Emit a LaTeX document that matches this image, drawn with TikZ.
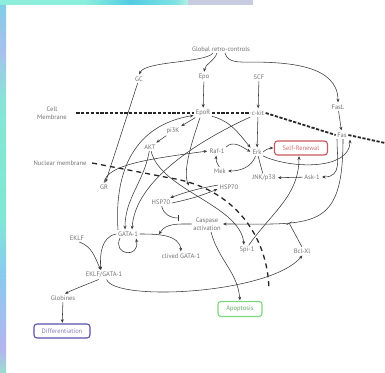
\documentclass[tikz,border=0pt]{standalone}
\usepackage{fontspec}
\setsansfont{PT Sans}
\usetikzlibrary{arrows.meta}
\definecolor{labelgray}{HTML}{727272}
\definecolor{linegray}{HTML}{383838}
\definecolor{renewred}{HTML}{C8585C}
\definecolor{apoptgreen}{HTML}{7CD87C}
\definecolor{diffblue}{HTML}{5A50A8}

\begin{document}
\begin{tikzpicture}
[x=1pt, y=1pt, >={Stealth[length=3.6pt,width=3pt]}, link line/.style={->, draw=linegray, line width=0.55pt, shorten >=0.6pt}, plain line/.style={draw=linegray, line width=0.55pt}, inhibit line/.style={-{Bar[width=6pt]}, draw=linegray, line width=0.55pt}, membrane line/.style={line width=1.8pt, dash pattern=on 3.2pt off 1.6pt, black!85}, nuclear line/.style={line width=1.3pt, dash pattern=on 5pt off 4pt, black!85}, outcome box/.style={draw, rounded corners=3pt, line width=1.1pt, minimum height=14pt, inner sep=2pt}, every node/.style={font=\sffamily\fontsize{6.5}{8}\selectfont, text=labelgray, inner sep=1.5pt}]
    \useasboundingbox (0,0) rectangle (385,372);
    \fill[white] (0,0) rectangle (385,372);
    \shade[top color={rgb,255:red,124;green,207;blue,230}, bottom color={rgb,255:red,168;green,192;blue,238}] (0,322) rectangle (6,372);
    \shade[top color={rgb,255:red,168;green,192;blue,238}, bottom color={rgb,255:red,134;green,228;blue,214}] (0,272) rectangle (6,322);
    \shade[top color={rgb,255:red,134;green,228;blue,214}, bottom color={rgb,255:red,128;green,232;blue,212}] (0,157) rectangle (6,272);
    \shade[top color={rgb,255:red,128;green,232;blue,212}, bottom color={rgb,255:red,136;green,204;blue,238}] (0,102) rectangle (6,157);
    \shade[top color={rgb,255:red,136;green,204;blue,238}, bottom color={rgb,255:red,180;green,180;blue,238}] (0,22) rectangle (6,102);
    \shade[top color={rgb,255:red,180;green,180;blue,238}, bottom color={rgb,255:red,154;green,220;blue,208}] (0,0) rectangle (6,22);
    \shade[left color={rgb,255:red,142;green,238;blue,220}, right color={rgb,255:red,138;green,238;blue,220}] (0,367) rectangle (85,372);
    \shade[left color={rgb,255:red,138;green,238;blue,220}, right color={rgb,255:red,84;green,204;blue,226}] (85,367) rectangle (130,372);
    \shade[left color={rgb,255:red,84;green,204;blue,226}, right color={rgb,255:red,124;green,226;blue,226}] (130,367) rectangle (175,372);
    \shade[left color={rgb,255:red,124;green,226;blue,226}, right color={rgb,255:red,180;green,240;blue,228}] (175,367) rectangle (188,372);
    \fill[fill={rgb,255:red,200;green,204;blue,224}] (188,367) rectangle (253,372);

    \node (glob) at (221,323) {Global retro-controls};
    \node (gc) at (139,293) {GC};
    \node (epo) at (204,295) {Epo};
    \node (scf) at (259,295) {SCF};
    \node (fasl) at (338,265) {FasL};
    \node[align=center] (cellm) at (52,259) {Cell\\Membrane};
    \node (epor) at (203,259) {EpoR};
    \node (ckit) at (258,259) {c-kit};
    \node (fas) at (342,237) {Fas};
    \node (pik) at (173,241) {pi3K};
    \node (akt) at (150,225) {AKT};
    \node (raf) at (217,221) {Raf-1};
    \node (erk) at (257,220) {Erk};
    \node[outcome box, draw=renewred, text=renewred!85!white, minimum width=53pt] (selfr) at (301,224) {Self-Renewal};
    \node (nucm) at (60,209) {Nuclear membrane};
    \node (mek) at (220,201) {Mek};
    \node (jnk) at (264,194) {JNK/p38};
    \node (ask) at (312,195) {Ask-1};
    \node (gr) at (104,185) {GR};
    \node (hspr) at (229,185) {HSP70};
    \node (hspl) at (161,170) {HSP70};
    \node[align=center] (casp) at (207,148) {Caspase\\activation};
    \node (gata) at (128,138) {GATA-1};
    \node (eklf) at (77,134) {EKLF};
    \node (spi) at (247,122) {Spi-1};
    \node (bcl) at (302,121) {Bcl-Xl};
    \node (cgata) at (181,116) {clived GATA-1};
    \node (eg) at (104,97) {EKLF/GATA-1};
    \node (glo) at (63,74) {Globines};
    \node[outcome box, draw=diffblue, text=diffblue!75!white, minimum width=56pt] (diff) at (62,41) {Differentiation};
    \node[outcome box, draw=apoptgreen, text=apoptgreen!80!black, minimum width=44pt, minimum height=15pt] (apop) at (240,63) {Apoptosis};
    \coordinate (hsptip) at (189,186);

    \draw[membrane line] ([xshift=8pt]cellm.east) -- (epor.west);
    \draw[membrane line] (epor.east) -- (ckit.west);
    \draw[membrane line] (ckit.east) -- (fas.west);
    \draw[membrane line] (fas.east) -- (385,229);
    \draw[nuclear line] ([xshift=4pt]nucm.east) -- (170,194) .. controls (235,184) and (268,135) .. (269,82);

    \draw[link line] ([xshift=-8pt]glob.south) .. controls +(-8,-10) and +(6,14) .. (gc.north);
    \draw[link line] ([xshift=-4pt]glob.south) to[out=-110,in=80] (epo.north);
    \draw[link line] ([xshift=4pt]glob.south) to[out=-75,in=180] ++(25,-9) to[out=0,in=90] (fasl.north);
    \draw[link line] (epo) -- (epor);
    \draw[link line] (scf) -- (ckit);
    \draw[link line] (fasl) -- (fas);
    \draw[link line] (gc) -- (gr);
    \draw[link line] (epor) -- (pik);
    \draw[link line] (pik) -- (akt);
    \draw[link line] (epor.-20) to[out=-15,in=130] (erk.north west);
    \draw[link line] (ckit) -- (erk);
    \draw[link line] (ckit.south west) .. controls (200,232) and (135,192) .. ([xshift=4pt]gata.north);
    \draw[link line] (akt.-100) to[out=-100,in=90] ([xshift=-3pt]gata.north);
    \draw[link line] ([xshift=-10pt]gata.north) .. controls (114,202) and (135,247) .. (epor.195);
    \draw[link line] (gr.north) .. controls +(2,18) and +(-60,-8) .. (raf.west);
    \draw[link line] (raf.north east) to[out=45,in=150] (erk.west);
    \draw[link line] (mek.100) to[bend left=20] (raf.-100);
    \draw[link line] (erk.-110) to[out=-110,in=0] (mek.east);
    \draw[plain line] (erk) -- (jnk);
    \draw[link line] (erk.east) to[bend left=20] (selfr.west);
    \draw[link line] (erk.south east) to[out=-25,in=-90,looseness=0.9] ([xshift=8pt]fas.south);
    \draw[link line] ([xshift=-5pt]fas.south) to[out=-90,in=0,looseness=1.3] (ask.east);
    \draw[link line] (ask) -- (jnk);
    \draw[link line] ([xshift=1pt]fas.south) to[out=-90,in=0,looseness=1.6] coordinate[pos=0.7] (fascasp) (casp.east);
    \draw[inhibit line] (bcl.north) -- (fascasp);
    \draw[inhibit line] (hspl.-80) to[out=-80,in=180] ([xshift=-13pt,yshift=6pt]casp.west);
    \draw[link line] (gata.east) to[out=0,in=95] coordinate[pos=0.35] (cleave) (cgata.north);
    \draw[link line] (casp.west) to[out=180,in=60] (cleave);
    \draw[link line] ([xshift=-8pt]gata.south) .. controls +(-8,-17) and +(4,-21) .. ([xshift=8pt]gata.south);
    \draw[link line] (gata.west) to[out=190,in=95] ([xshift=-3pt]eg.north);
    \draw[link line] (eklf.-60) to[out=-20,in=115] ([xshift=-3pt]eg.north);
    \draw[link line] (eg.-140) .. controls +(-7,-3) and +(10,5) .. (glo.70);
    \draw[link line] (glo) -- (diff);
    \draw[link line] (eg.-60) .. controls (115,70) and (270,78) .. (bcl.-80);
    \draw[link line] ([xshift=4pt]casp.south) to[out=-75,in=95] (apop.north);
    \draw[link line] (spi.70) to[out=55,in=-90] ([xshift=-2pt]selfr.south);
    \draw[link line] (akt.-75) .. controls (160,182) and (240,167) .. ([xshift=-3pt]spi.north);
    \draw[link line] ([xshift=-3pt]epor.south) .. controls (190,225) and (183,200) .. (hsptip);
    \draw[link line] (hspl.-5) to[bend right=5] (hspr.190);
    \draw[link line] (hspr.170) to[bend right=5] (hspl.25);
\end{tikzpicture}
\end{document}
